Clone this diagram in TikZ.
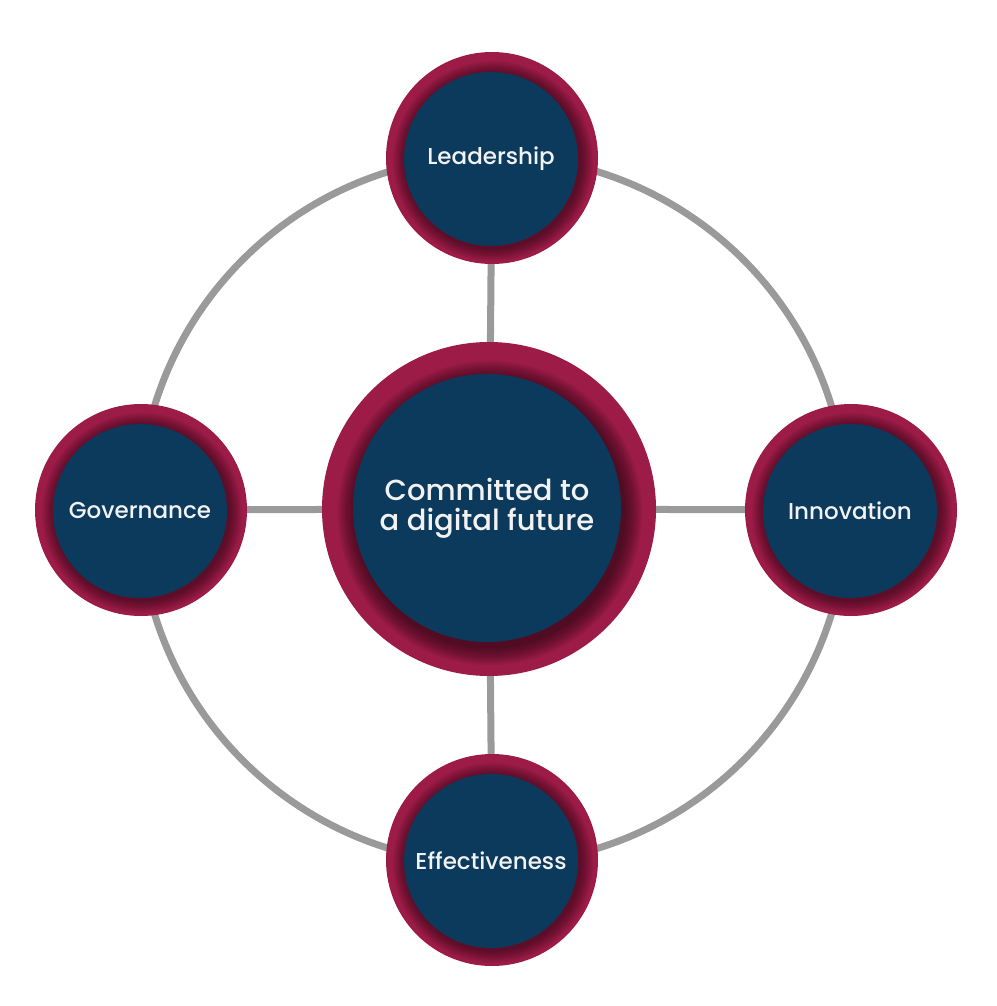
\documentclass[tikz,border=0pt]{standalone}
\usepackage{fontspec}
\setmainfont{Poppins}[UprightFont = * Medium]
\usepackage{tikz}
\usetikzlibrary{
  backgrounds,
  calc,
}
\definecolor{ringRed}{HTML}{9C1B47}
\definecolor{coreNavy}{HTML}{0B3A5C}
\definecolor{linkGray}{HTML}{9A9A9A}
\definecolor{labelWhite}{HTML}{F2F2F2}
\tikzset{
  hub/.style={
    circle, fill=ringRed, draw=none, inner sep=0pt,
    minimum size=212pt,
  },
  hubBig/.style={
    hub, minimum size=334pt,
  },
  disc/.style={
    circle, fill=coreNavy, draw=none, inner sep=0pt,
    minimum size=174pt, text=labelWhite, align=center,
    font=\fontsize{23}{27}\selectfont,
  },
  discBig/.style={
    disc, minimum size=268pt,
    font=\fontsize{29}{30}\selectfont,
  },
  glow/.style={
    fill=black, fill opacity=0.06, draw=none,
  },
  link/.style={
    draw=linkGray, line width=7pt,
  },
}

\begin{document}
\begin{tikzpicture}[x=1pt, y=-1pt]
\useasboundingbox (0,0) rectangle (996,1006);

% centre
\node[hubBig] (core) at (489,509) {};
\foreach \k in {1,...,10}
  \fill[glow] ($(core.center)+(1,4)$) circle [radius={(134+\k*1.8)*1pt}];
\node[discBig] (core-in) at (487,508) {Committed to\\a digital future};

% four satellites
\foreach \name/\x/\y/\txt in {%
  lead/492/158/Leadership,%
  innov/851/510/Innovation,%
  effect/492/860/Effectiveness,%
  gov/141/510/Governance%
}
{
  \node[hub] (\name) at (\x,\y) {};
  \foreach \k in {1,...,8}
    \fill[glow] ($(\name.center)+(1,3)$) circle [radius={(87+\k*1.6)*1pt}];
  \node[disc] (\name-in) at (\x-1,\y+1) {\txt};
}

\begin{scope}[on background layer]
  \coordinate (hubring) at (493,510);
  \draw[link] (hubring) circle [radius=354pt];
  \foreach \name in {lead, innov, effect, gov}
    \draw[link] (core) -- (\name);
\end{scope}

\end{tikzpicture}
\end{document}
